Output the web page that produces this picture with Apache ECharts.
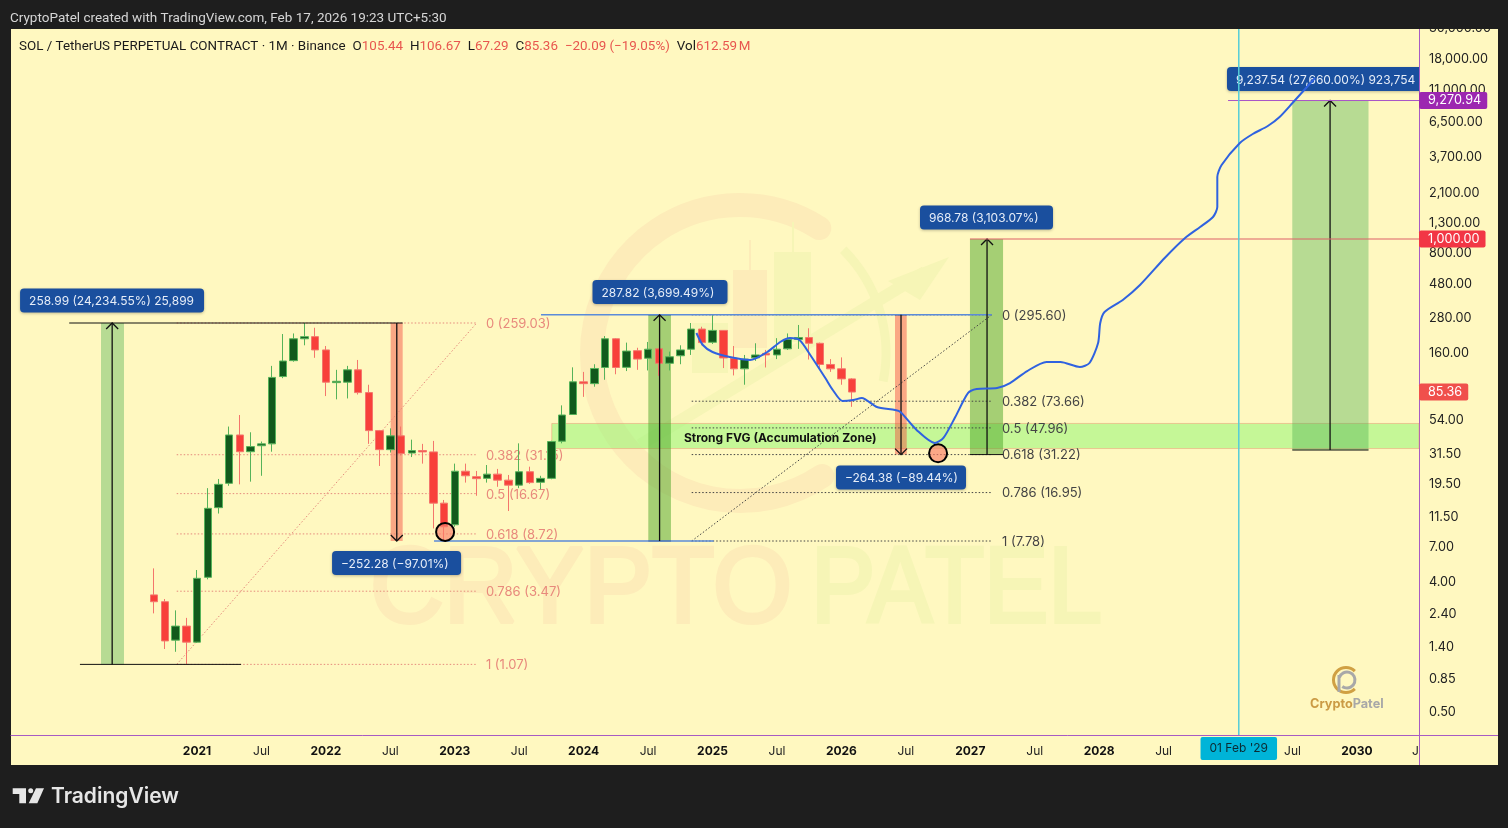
<!DOCTYPE html>
<html><head><meta charset="utf-8">
<style>html,body{margin:0;padding:0;background:#1e1e1e;}#c{width:1508px;height:828px;}</style>
<script src="https://cdn.jsdelivr.net/npm/echarts@6/dist/echarts.min.js"></script>
</head><body><div id="c"></div>
<script>
// ---------- data: x values are months counted from Jan 2021, y values are prices ----------
const candleMonths = [-4,-3,-2,-1,0,1,2,3,4,5,6,7,8,9,10,11,12,13,14,15,16,17,18,19,20,21,22,23,24,25,26,27,28,29,30,31,32,33,34,35,36,37,38,39,40,41,42,43,44,45,46,47,48,49,50,51,52,53,54,55,56,57,58,59,60,61];
const ohlc = [ // open, close, low, high
[3.27,2.93,2.43,5.01],[2.93,1.56,1.37,3.06],[1.58,1.98,1.31,2.55],[1.98,1.53,1.07,2.26],
[1.53,4.27,1.51,4.88],[4.34,13.16,4.2,18.2],[13.3,19.35,12.1,21.1],[19.67,42.8,18.9,49],
[42.8,32.7,19.35,59],[32.7,35.5,20.2,44.7],[36,37.1,22.2,38.5],[37.1,108,32.7,130],
[109.5,140.6,106.7,217],[141.4,201,139,219],[201,208,181,259],[208,168,148,240],
[168,100,80,179],[99.3,101.5,75.9,122],[100,122,77,130],[122,84.6,82,143],
[84.6,45.9,37.1,96],[45.9,33.8,26,46.4],[33.8,42.2,32.3,47.6],[42.2,31.8,30.8,49],
[32,33.3,30,39.7],[33.3,32.6,27,37.1],[32.6,14.3,9.52,38.9],[14.3,9.78,7.78,15.05],
[10.1,23.9,9.78,27],[23.9,22.2,19.9,27],[21.9,21.2,16.1,24],[21.3,22.8,19.9,26.4],
[22.8,20.7,18.6,24.8],[20.7,19.1,12.6,22.5],[19.1,23.7,18.2,37.4],[23.7,19.9,19.5,25.7],
[20,21.3,17.9,22.2],[21.3,38.5,21,39],[38.7,59,37.4,68.9],[59.5,100.6,59,127],
[100.6,97.7,79,118],[97.7,124.7,93,133.5],[126.7,201,104,210],[201,126.7,113.6,203],
[127,165,119.6,189],[166,145,122,174],[147,170,120.8,191],[171,135.5,110.7,172],
[135.5,150.5,120.8,163.5],[153,168,133.5,181],[170,235,155,259],[235,189,181,244],
[190,230,185,295.6],[230,147.7,125.5,231],[147,124,111.5,179],[124,145,96,155],
[148,155,141,187],[159,155,126.7,168],[155,170,145,203],[171,199,168,219],
[199,205,171,251],[205,187,144,238],[187,133,124.7,189],[133,124,118,145],
[124,105.44,96,149],[105.44,85.36,67.29,106.67]];
const projection = [[46.5,220.6],[47.1,181.9],[48,162.5],[49.6,150],[51.5,142.9],[53.1,162.5],[54.3,190.8],[55.2,203.6],[56.1,197.1],[57.1,154.9],[58.5,107],[59.2,88.2],[60.1,73.9],[61.1,75.1],[61.9,77.6],[63.3,67.1],[65,63.9],[65.5,61.9],[67,46.4],[68.7,37.6],[69.5,40.8],[70.6,57.1],[71.8,84.1],[72.6,89.6],[74.5,91.1],[75.7,98.7],[77.3,119.7],[79.1,138.4],[80.4,138.4],[82.2,127.7],[83.1,136.2],[83.9,187.8],[84.1,259],[84.5,309.2],[86.2,375],[87.8,477],[90.1,737],[92,1016],[93.4,1213],[94.6,1424],[95,1673],[95,2710],[95.4,3287],[97.1,4682],[98.3,5411],[99.7,6153],[100.8,7112],[102,8906],[104.1,13316]];
const yTicks = [18000,11000,6500,3700,2100,1300,800,480,280,160,54,31.5,19.5,11.5,7,4,2.4,1.4,0.85,0.5];
const xTickValues = [0,6,12,18,24,30,36,42,48,54,60,66,72,78,84,90,102,108];
const xTickLabels = ['2021','Jul','2022','Jul','2023','Jul','2024','Jul','2025','Jul','2026','Jul','2027','Jul','2028','Jul','Jul','2030'];
const fibA = [[259.03,'0 (259.03)'],[31.15,'0.382 (31.15)'],[16.67,'0.5 (16.67)'],[8.72,'0.618 (8.72)'],[3.47,'0.786 (3.47)'],[1.07,'1 (1.07)']];
const fibB = [[295.6,'0 (295.60)'],[73.66,'0.382 (73.66)'],[47.96,'0.5 (47.96)'],[31.22,'0.618 (31.22)'],[16.95,'0.786 (16.95)'],[7.78,'1 (7.78)']];
const fibADiagonal = [[-1.89,1.07,26.04,259.03]];
const fibBDiagonal = [[46.06,7.78,74,295.6]];
const fvgZone = [[33.03,113.78,51.5,34.4]];
const fvgLabel = [[54.3,40.5,'Strong FVG (Accumulation Zone)']];
const lightGreenBars = [[-8.94,-6.8,259.03,1.07],[101.98,109.08,9270.94,33.6]];
const darkGreenBars = [[42.02,44.13,295.6,7.78],[71.97,75.05,1000,31.22]];
const redBars = [[18.03,19.15,259.03,7.78],[64.99,66.08,295.6,31.22]];
const upArrows = [[-7.9,1.07,259.03],[43.07,7.78,295.6],[73.56,31.22,1000],[105.5,33.6,9270.94]];
const downArrows = [[18.6,259.03,7.78],[65.55,295.6,31.22]];
const blackLines = [[-11.9,259.03,19.15,259.03],[-10.9,1.07,4.1,1.07],[64.99,295.6,66.08,295.6],[71.97,31.22,75.05,31.22],[101.98,33.6,109.08,33.6],[42.02,295.6,44.13,295.6],[42.02,7.78,44.13,7.78]];
const blueLines = [[32.03,295.6,74,295.6],[22.07,7.78,48.1,7.78]];
const targetLine1000 = [[71.97,1000,113.78,1000]];
const targetLine9270 = [[96,9270.94,113.78,9270.94]];
const dateLine = [[97,0.3437,97,29280]];
const circles = [[23.1,9],[69,31.9]];
const measureBoxes = [[-7.91,372,'258.99 (24,234.55%) 25,899'],[43.11,426.4,'287.82 (3,699.49%)'],[73.51,1413,'968.78 (3,103.07%)'],[65.55,21.6,'\u2212264.38 (\u221289.44%)'],[18.58,5.46,'\u2212252.28 (\u221297.01%)'],[106.33,13100,'9,237.54 (27,660.00%) 923,754']];
const priceTags = [[113.78,9270.94,'9,270.94'],[113.78,1000,'1,000.00'],[113.78,85.36,'85.36']];
const dateTag = [[97,0.3437,"01 Feb '29"]];

// ---------- styles ----------
const FONT = 'Inter, Roboto, sans-serif';
const BOX_WIDTHS = [184,135,133,130,129,224];
const TAG_COLORS = ['#9c27b0','#f23645','#f0504c'];
const PANEL = '#fff8c0', ORANGE_WM = '#fdecb9', GREEN_WM = '#f6f5b6';

function overlay(name, rows, z, encodeY, draw, extra) {
  return Object.assign({type:'custom', name, z, silent:true, animation:false,
    data: rows, encode:{x:0, y:encodeY},
    renderItem:(p, api) => draw(rows[p.dataIndex], api)}, extra||{});
}
function rectDraw(style){ return (r, api) => {
  const a = api.coord([r[0], r[2]]), b = api.coord([r[1], r[3]]);
  return {type:'rect', shape:{x:a[0], y:a[1], width:b[0]-a[0], height:b[1]-a[1]}, style};
};}
function lineDraw(style){ return (r, api) => {
  const a = api.coord([r[0], r[1]]), b = api.coord([r[2], r[3]]);
  return {type:'line', shape:{x1:a[0], y1:a[1], x2:b[0], y2:b[1]}, style};
};}
function arrowDraw(sign){ return (r, api) => {
  const a = api.coord([r[0], r[1]]), b = api.coord([r[0], r[2]]);
  const s = {stroke:'#111', lineWidth:1.3, fill:null};
  return {type:'group', children:[
    {type:'line', shape:{x1:a[0], y1:a[1], x2:b[0], y2:b[1]}, style:s},
    {type:'polyline', shape:{points:[[b[0]-6,b[1]+sign*6],[b[0],b[1]],[b[0]+6,b[1]+sign*6]]}, style:s}
  ]};
};}
function fibDraw(x1, x2, xText, lineColor, textColor){ return (r, api) => {
  const a = api.coord([x1, r[0]]), b = api.coord([x2, r[0]]), t = api.coord([xText, r[0]]);
  return {type:'group', children:[
    {type:'line', shape:{x1:a[0], y1:a[1], x2:b[0], y2:b[1]}, style:{stroke:lineColor, lineWidth:1, lineDash:[1.5,2]}},
    {type:'text', x:t[0], y:t[1]+1, style:{text:r[1], fill:textColor, font:'13px '+FONT, textVerticalAlign:'middle', textAlign:'left'}}
  ]};
};}
const LEGEND_FONT = {fontSize:13.4, fontWeight:400, fontFamily:'Roboto, sans-serif'};

const option = {
  backgroundColor:'#1e1e1e', animation:false,
  title:[
    {text:'CryptoPatel created with TradingView.com, Feb 17, 2026 19:23 UTC+5:30', left:10, top:12, padding:0, z:30,
     textStyle:{color:'#d6d6d6', fontSize:13.5, fontWeight:400, fontFamily:'Roboto, sans-serif'}},
    {text:'{k|SOL / TetherUS PERPETUAL CONTRACT \u00b7 1M \u00b7 Binance}{g| }{k|O}{r|105.44}{g| }{k|H}{r|106.67}{g| }{k|L}{r|67.29}{g| }{k|C}{r|85.36}{g| }{r|\u221220.09 (\u221219.05%)}{g| }{k|Vol}{r|612.59\u202fM}',
     left:19, top:40, padding:0, z:30,
     textStyle:{fontWeight:400, rich:{k:Object.assign({color:'#1a1a1a'},LEGEND_FONT), r:Object.assign({color:'#e8564e'},LEGEND_FONT), g:{width:7, fontSize:13}}}}
  ],
  grid:{left:11, top:29, width:1408, height:706, containLabel:false},
  xAxis:{type:'value', min:-17.32, max:113.78, splitLine:{show:false},
    axisLine:{onZero:false, lineStyle:{color:'#a75bc4', width:1}}, axisTick:{show:false},
    axisLabel:{customValues:xTickValues, margin:10, color:'#222', fontSize:12, fontFamily:FONT,
      formatter:v => { const i = xTickValues.indexOf(Math.round(v)); const t = xTickLabels[i]; return t==='Jul' ? t : '{b|'+t+'}'; },
      rich:{b:{fontWeight:700, fontSize:12, color:'#111', fontFamily:FONT}}}},
  yAxis:{type:'log', logBase:10, min:0.3437, max:29280, position:'right', splitLine:{show:false}, minorTick:{show:false},
    axisLine:{show:true, onZero:false, lineStyle:{color:'#a75bc4', width:1}}, axisTick:{show:false},
    axisLabel:{customValues:yTicks, margin:10, color:'#222', fontSize:12.7, fontFamily:FONT, padding:[3,0,0,0],
      formatter:v => Number(v).toLocaleString('en-US',{minimumFractionDigits:2, maximumFractionDigits:2})}},
  graphic:[
    {type:'rect', z:-1, silent:true, shape:{x:11,y:29,width:1487,height:736}, style:{fill:PANEL}},
    {type:'text', z:1, silent:true, x:1429, y:28, style:{text:'30,000.00', fill:'#222', font:'12.7px '+FONT, textVerticalAlign:'middle'}},
    {type:'rect', z:20, silent:true, shape:{x:0,y:0,width:1508,height:29}, style:{fill:'#1e1e1e'}},
    {type:'text', z:1, silent:true, x:1412, y:751, style:{text:'J', fill:'#222', font:'12px '+FONT, textVerticalAlign:'middle'}},
    {type:'line', z:1, silent:true, shape:{x1:1419,y1:735.5,x2:1498,y2:735.5}, style:{stroke:'#a75bc4',lineWidth:1}},
    {type:'line', z:1, silent:true, shape:{x1:1419.5,y1:735,x2:1419.5,y2:765}, style:{stroke:'#a75bc4',lineWidth:1}},
    // watermark
    {type:'arc', z:0, silent:true, shape:{cx:740,cy:353,r:148,startAngle:Math.PI/3.2,endAngle:Math.PI*1.68,clockwise:true}, style:{stroke:ORANGE_WM,lineWidth:24,fill:null,lineCap:'round'}},
    {type:'arc', z:0, silent:true, shape:{cx:740,cy:353,r:146,startAngle:-Math.PI/4,endAngle:Math.PI/16,clockwise:true}, style:{stroke:GREEN_WM,lineWidth:9,fill:null}},
    {type:'rect', z:0, silent:true, shape:{x:733,y:270,width:34,height:78}, style:{fill:ORANGE_WM}},
    {type:'rect', z:0, silent:true, shape:{x:749,y:240,width:2,height:30}, style:{fill:ORANGE_WM}},
    {type:'rect', z:0, silent:true, shape:{x:774,y:252,width:37,height:90}, style:{fill:GREEN_WM}},
    {type:'rect', z:0, silent:true, shape:{x:792,y:222,width:2,height:30}, style:{fill:GREEN_WM}},
    {type:'rect', z:0, silent:true, shape:{x:692,y:323,width:36,height:50}, style:{fill:GREEN_WM}},
    {type:'line', z:0, silent:true, shape:{x1:640,y1:445,x2:925,y2:272}, style:{stroke:GREEN_WM,lineWidth:12}},
    {type:'polygon', z:0, silent:true, shape:{points:[[949,257],[888,281],[920,300]]}, style:{fill:GREEN_WM}},
    {type:'text', z:0, silent:true, x:370, y:592, scaleX:0.955, style:{text:'CRYPTO', fill:ORANGE_WM, stroke:ORANGE_WM, lineWidth:4, font:'107px "Liberation Sans"', textVerticalAlign:'middle'}},
    {type:'text', z:0, silent:true, x:811, y:592, scaleX:0.9, style:{text:'PATEL', fill:GREEN_WM, stroke:GREEN_WM, lineWidth:4, font:'107px "Liberation Sans"', textVerticalAlign:'middle'}},
    // small logo
    {type:'arc', z:0, silent:true, shape:{cx:1346,cy:680,r:12.5,startAngle:Math.PI/4,endAngle:Math.PI*1.75,clockwise:true}, style:{stroke:'#d0a043',lineWidth:3,fill:null}},
    {type:'arc', z:0, silent:true, shape:{cx:1347,cy:680,r:8,startAngle:-Math.PI*0.9,endAngle:Math.PI*0.7,clockwise:true}, style:{stroke:'#a8a8a8',lineWidth:3,fill:null}},
    {type:'line', z:0, silent:true, shape:{x1:1339,y1:675,x2:1339,y2:692}, style:{stroke:'#a8a8a8',lineWidth:3}},
    {type:'text', z:0, silent:true, x:1310, y:704, style:{rich:{a:{fill:'#cb9b45',font:'700 12.7px '+FONT},b:{fill:'#a8a8a8',font:'700 12.7px '+FONT}}, text:'{a|Crypto}{b|Patel}', textVerticalAlign:'middle'}},
    // TradingView mark
    {type:'polygon', z:1, silent:true, shape:{points:[[12.7,788.3],[26,788.3],[26,803.3],[19.3,803.3],[19.3,794],[12.7,794]]}, style:{fill:'#e6e6e6'}},
    {type:'circle', z:1, silent:true, shape:{cx:30.7,cy:790.8,r:2.5}, style:{fill:'#e6e6e6'}},
    {type:'polygon', z:1, silent:true, shape:{points:[[36,788.3],[44,788.3],[37.3,803.3],[28.7,803.3]]}, style:{fill:'#e6e6e6'}},
    {type:'text', z:1, silent:true, x:51, y:797, style:{text:'TradingView', fill:'#e6e6e6', font:'600 21px '+FONT, textVerticalAlign:'middle'}}
  ],
  series:[
    overlay('FVG zone', fvgZone, 1, 2, rectDraw({fill:'rgba(140,245,110,0.5)', stroke:'rgba(240,140,110,0.45)', lineWidth:1})),
    overlay('Light measures', lightGreenBars, 1, 2, rectDraw({fill:'rgba(76,175,80,0.4)'})),
    overlay('Dark measures', darkGreenBars, 1, 2, rectDraw({fill:'rgba(76,165,40,0.5)'})),
    overlay('Red measures', redBars, 1, 2, rectDraw({fill:'rgba(245,70,60,0.45)'})),
    overlay('Fib A', fibA, 2, 0, fibDraw(-1.89, 26.04, 26.9, '#e58a7c', '#e8897c')),
    overlay('Fib B', fibB, 2, 0, fibDraw(46.06, 74, 74.95, '#444', '#444')),
    overlay('Fib A diagonal', fibADiagonal, 2, 1, lineDraw({stroke:'#e58a7c', lineWidth:1, lineDash:[1.5,2]})),
    overlay('Fib B diagonal', fibBDiagonal, 2, 1, lineDraw({stroke:'#444', lineWidth:1, lineDash:[1.5,2]})),
    overlay('FVG label', fvgLabel, 3, 1, (r, api) => { const c = api.coord([r[0], r[1]]);
      return {type:'text', x:c[0], y:c[1], style:{text:r[2], fill:'#111', font:'700 12px '+FONT, textAlign:'center', textVerticalAlign:'middle'}}; }),
    {type:'candlestick', name:'SOLUSDT.P', z:3, animation:false, barWidth:8,
      data: ohlc.map((r,i) => [candleMonths[i], r[0], r[1], r[2], r[3]]),
      encode:{x:0, y:[1,2,3,4]},
      itemStyle:{color:'#125a1c', color0:'#f8403a', borderColor:'#56b35a', borderColor0:'#f4766c', borderWidth:1}},
    overlay('Black lines', blackLines, 4, 1, lineDraw({stroke:'#111', lineWidth:1})),
    overlay('Blue lines', blueLines, 4, 1, lineDraw({stroke:'#5b8bd9', lineWidth:1.5})),
    overlay('Up arrows', upArrows, 4, 1, arrowDraw(1)),
    overlay('Down arrows', downArrows, 4, 1, arrowDraw(-1)),
    overlay('Target 1000', targetLine1000, 4, 1, lineDraw({stroke:'#dd6068', lineWidth:1})),
    overlay('Target 9270', targetLine9270, 4, 1, lineDraw({stroke:'#a855c8', lineWidth:1})),
    {type:'scatter', name:'Pivots', z:5, animation:false, silent:true, data:circles, symbolSize:18,
      itemStyle:{color:'rgba(250,125,105,0.65)', borderColor:'#000', borderWidth:2, opacity:1}},
    overlay('Measure labels', measureBoxes, 5, 1, (r, api) => {
      const i = measureBoxes.indexOf(r), w = BOX_WIDTHS[i], c = api.coord([r[0], r[1]]), x = c[0]-w/2, y = c[1]-12;
      return {type:'group', children:[
        {type:'rect', shape:{x, y, width:w, height:24, r:4}, style:{fill:'#1a4f9e', shadowColor:'rgba(0,0,0,0.25)', shadowBlur:3, shadowOffsetY:1}},
        {type:'text', x:x+9, y:c[1]+1, style:{text:r[2], fill:'#e6edf8', font:'12px '+FONT, textVerticalAlign:'middle', textAlign:'left'}}
      ]};
    }, {clip:true}),
    overlay('Date line', dateLine, 6, 1, lineDraw({stroke:'#55cdd8', lineWidth:1.5})),
    {type:'line', name:'Projection', z:7, animation:false, silent:true, data:projection, showSymbol:false, smooth:0.25, clip:false,
      lineStyle:{color:'#2f62e0', width:2}},
    {type:'scatter', name:'Price tags', z:8, animation:false, silent:true, clip:false, symbolSize:0, itemStyle:{opacity:1},
      data: priceTags.map((t,i) => ({value:[t[0],t[1]],
        label:{show:true, position:'right', distance:0, formatter:t[2], color:'#fff', backgroundColor:TAG_COLORS[i], fontSize:12.7, fontFamily:FONT, padding:[2,6,2,9], lineHeight:13, borderRadius:2}}))},
    {type:'scatter', name:'Date tag', z:8, animation:false, silent:true, clip:false, symbolSize:0, itemStyle:{opacity:1},
      data: dateTag.map(t => ({value:[t[0],t[1]],
        label:{show:true, position:'bottom', distance:2, formatter:t[2], color:'#0b2b33', backgroundColor:'#00b4d8', fontSize:12, fontFamily:FONT, padding:[5,9], lineHeight:13, borderRadius:2}}))}
  ]
};
const chart = echarts.init(document.getElementById('c'), null, {renderer:'canvas'});
chart.setOption(option);
</script></body></html>
